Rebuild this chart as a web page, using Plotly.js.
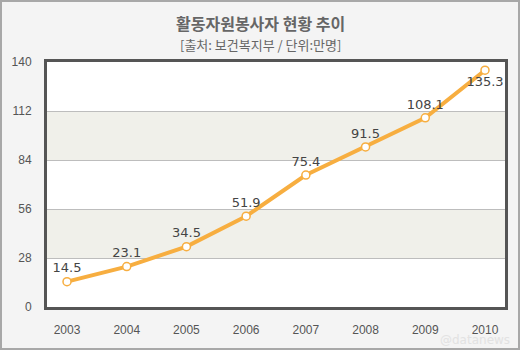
<!DOCTYPE html>
<html>
<head>
<meta charset="utf-8">
<script src="https://cdn.plot.ly/plotly-3.0.1.min.js"></script>
<style>html,body{margin:0;padding:0;background:#f4f4f4;}#chart{width:520px;height:350px;}</style>
</head>
<body>
<div id="chart"></div>
<script>
const years = ['2003','2004','2005','2006','2007','2008','2009','2010'];
const volunteers = [14.5, 23.1, 34.5, 51.9, 75.4, 91.5, 108.1, 135.3];
const yTicks = [0, 28, 56, 84, 112, 140];
const bands = [[28, 56], [84, 112]];

const W = 520, H = 350;
const m = {l: 47, r: 15, t: 62, b: 43};
const pw = W - m.l - m.r, ph = H - m.t - m.b;
const px = v => (v - m.l) / pw;
const py = v => (H - m.b - v) / ph;

const xIdx = years.map((_, i) => i);
const textPos = volunteers.map((_, i) => i === volunteers.length - 1 ? 'bottom center' : 'top center');

const shapes = bands.map(b => ({
  type: 'rect', xref: 'paper', yref: 'y', x0: 0, x1: 1, y0: b[0], y1: b[1],
  fillcolor: '#f0f0ea', line: {width: 0}, layer: 'below'
}));
shapes.push({
  type: 'rect', xref: 'paper', yref: 'paper',
  x0: px(1), x1: px(W - 1), y0: py(H - 1), y1: py(1),
  line: {color: '#a8a8a8', width: 2}, fillcolor: 'rgba(0,0,0,0)', layer: 'below'
});

const trace = {
  x: xIdx, y: volunteers, type: 'scatter', mode: 'lines+markers+text',
  text: volunteers.map(v => v.toFixed(1)), textposition: textPos,
  textfont: {family: 'DejaVu Sans', size: 13, color: '#444'},
  line: {color: '#f7ae40', width: 4},
  marker: {size: 8, color: '#ffffff', line: {color: '#f7ae40', width: 1.5}},
  cliponaxis: false, hoverinfo: 'none'
};

const layout = {
  width: W, height: H, margin: m,
  paper_bgcolor: '#f4f4f4', plot_bgcolor: '#ffffff',
  showlegend: false,
  xaxis: {
    range: [-0.335, 7.335], tickvals: xIdx, ticktext: years,
    showgrid: false, zeroline: false, showline: true, mirror: true,
    linecolor: '#555', linewidth: 3,
    ticks: 'outside', ticklen: 10, tickcolor: 'rgba(0,0,0,0)',
    tickfont: {family: 'Liberation Sans, Arial', size: 12, color: '#555'}
  },
  yaxis: {
    range: [0, 140], tickvals: yTicks,
    showgrid: true, gridcolor: '#bdbdbd', gridwidth: 1, zeroline: false,
    showline: true, mirror: true, linecolor: '#555', linewidth: 3,
    ticks: 'outside', ticklen: 10, tickcolor: 'rgba(0,0,0,0)',
    tickfont: {family: 'Liberation Sans, Arial', size: 12, color: '#555'}
  },
  shapes: shapes,
  annotations: [
    {text: '<b>활동자원봉사자 현황 추이</b>', xref: 'paper', yref: 'paper',
     x: px(260), y: py(23), xanchor: 'center', yanchor: 'middle', showarrow: false,
     font: {family: 'Noto Sans CJK KR', size: 16, color: '#666'}},
    {text: '[출처: 보건복지부 / 단위:만명]', xref: 'paper', yref: 'paper',
     x: px(260), y: py(44), xanchor: 'center', yanchor: 'middle', showarrow: false,
     font: {family: 'Noto Sans CJK KR', size: 13, color: '#666'}},
    {text: '@datanews', xref: 'paper', yref: 'paper',
     x: px(512), y: py(340), xanchor: 'right', yanchor: 'middle', showarrow: false,
     font: {family: 'DejaVu Sans', size: 12, color: '#e2e2e2'}}
  ]
};

Plotly.newPlot('chart', [trace], layout, {staticPlot: true, displayModeBar: false});
</script>
</body>
</html>
